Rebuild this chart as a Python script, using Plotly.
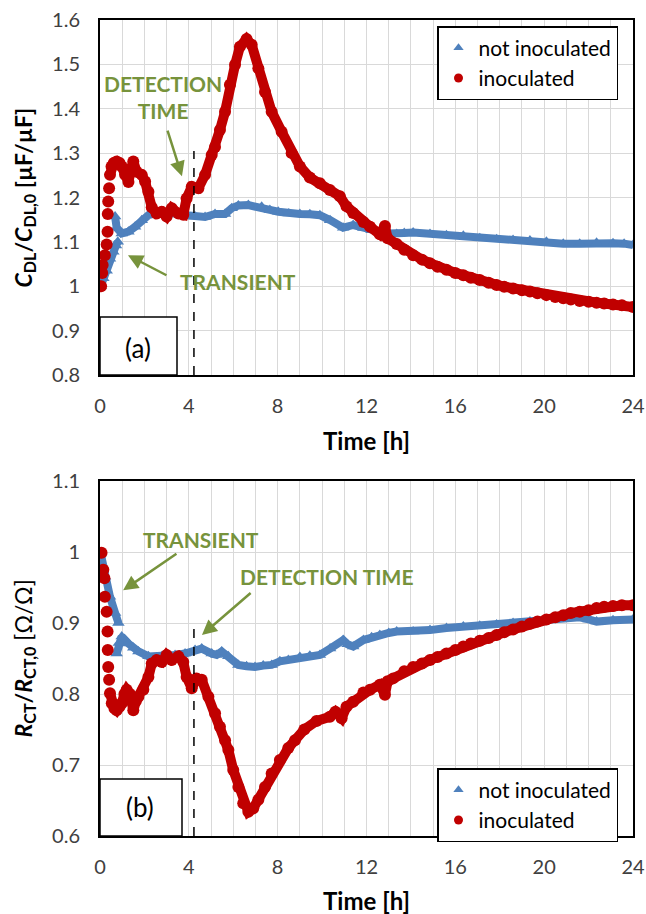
import plotly.graph_objects as go

# ---------------- data ----------------
# (a) double-layer capacitance, normalised
t_a_blue = [0.03, 0.15, 0.30, 0.45, 0.60, 0.72, 0.80,
            0.68, 0.75, 0.98, 1.28, 1.58, 1.88, 2.18, 2.48, 2.78, 3.15, 3.53, 3.90,
            4.28, 4.73, 5.18, 5.63, 5.93, 6.23, 6.68, 7.28, 7.65, 8.03, 8.50, 9.00,
            9.45, 9.90, 10.36, 10.95, 11.40, 11.86, 12.23, 12.60, 13.00, 13.36, 13.70,
            14.10, 14.86, 15.60, 16.36, 17.10, 17.86, 18.60, 19.36, 20.10, 20.86,
            21.60, 22.36, 23.10, 23.60, 24.00]
c_a_blue = [1.000, 1.018, 1.035, 1.062, 1.078, 1.092, 1.100,
            1.157, 1.132, 1.119, 1.123, 1.134, 1.149, 1.160, 1.164, 1.165, 1.163, 1.164, 1.160,
            1.157, 1.156, 1.163, 1.163, 1.176, 1.182, 1.183, 1.179, 1.172, 1.168, 1.164, 1.163,
            1.162, 1.160, 1.149, 1.132, 1.138, 1.131, 1.126, 1.123, 1.119, 1.118, 1.120,
            1.121, 1.118, 1.115, 1.114, 1.108, 1.106, 1.104, 1.103, 1.100, 1.096,
            1.096, 1.098, 1.097, 1.096, 1.093]
a_blue_break = 7  # jump in the not-inoculated transient

t_a_red = [0.05, 0.10, 0.12, 0.22, 0.30, 0.34, 0.35, 0.37, 0.41, 0.45, 0.52, 0.62, 0.75,
           0.88, 0.98, 1.13, 1.28, 1.40, 1.50, 1.65, 1.88, 2.03, 2.18, 2.33, 2.55, 2.78,
           3.00, 3.23, 3.53, 3.75, 3.90, 4.13, 4.43, 4.73, 5.03, 5.18, 5.40, 5.63, 5.85,
           6.08, 6.30, 6.60, 6.83, 7.13, 7.43, 7.73, 8.18, 8.63, 9.00, 9.45, 9.90, 10.35,
           10.80, 11.10, 11.40, 11.86, 12.16, 12.60, 12.83, 12.95, 13.36, 13.70, 14.10,
           14.50, 14.86, 15.20, 15.60, 16.00, 16.36, 16.70, 17.10, 17.50, 17.86, 18.20,
           18.60, 19.00, 19.36, 19.70, 20.10, 20.50, 20.86, 21.20, 21.60, 22.00, 22.36,
           22.70, 23.10, 23.50, 24.00]
c_a_red = [1.000, 1.030, 1.048, 1.070, 1.094, 1.123, 1.163, 1.191, 1.221, 1.251, 1.270, 1.278, 1.281,
           1.278, 1.270, 1.251, 1.235, 1.265, 1.281, 1.258, 1.251, 1.236, 1.213, 1.178, 1.164, 1.168,
           1.157, 1.176, 1.164, 1.161, 1.198, 1.224, 1.221, 1.251, 1.296, 1.314, 1.352, 1.393, 1.454,
           1.499, 1.540, 1.557, 1.544, 1.491, 1.438, 1.393, 1.348, 1.300, 1.270, 1.245, 1.232, 1.217,
           1.203, 1.180, 1.165, 1.145, 1.134, 1.117, 1.136, 1.108, 1.095, 1.082, 1.070,
           1.060, 1.052, 1.044, 1.037, 1.030, 1.025, 1.019, 1.014, 1.008, 1.003, 0.999,
           0.995, 0.991, 0.988, 0.984, 0.980, 0.976, 0.973, 0.970, 0.967, 0.965, 0.963,
           0.961, 0.959, 0.957, 0.953]
a_red_line_start = 9  # isolated dots before this index

# (b) charge-transfer resistance, normalised
t_b_blue = [0.03, 0.22, 0.45, 0.68, 0.83,
            0.75, 0.85, 0.98, 1.28, 1.50, 1.73, 2.18, 2.78, 3.38, 3.83, 4.28, 4.58, 5.03,
            5.25, 5.48, 5.78, 6.23, 6.60, 6.98, 7.35, 7.73, 8.10, 8.48, 9.00, 9.45, 9.90,
            10.36, 10.95, 11.15, 11.40, 11.86, 12.23, 12.60, 13.00, 13.36, 14.10, 14.86,
            15.60, 16.36, 17.10, 17.86, 18.60, 19.36, 20.10, 20.86, 21.60, 22.00, 22.36,
            23.10, 24.00]
r_b_blue = [0.998, 0.965, 0.937, 0.914, 0.900,
            0.857, 0.872, 0.881, 0.871, 0.865, 0.860, 0.853, 0.853, 0.855, 0.857, 0.862, 0.864, 0.857,
            0.855, 0.860, 0.853, 0.841, 0.839, 0.838, 0.840, 0.841, 0.846, 0.848, 0.852, 0.854, 0.855,
            0.864, 0.876, 0.870, 0.867, 0.876, 0.880, 0.883, 0.886, 0.888, 0.888, 0.890,
            0.893, 0.895, 0.896, 0.898, 0.900, 0.902, 0.905, 0.908, 0.908, 0.905, 0.902,
            0.904, 0.905]
b_blue_break = 5

t_b_red = [0.07, 0.15, 0.20, 0.22, 0.30, 0.34, 0.35, 0.37, 0.41, 0.45, 0.53, 0.65, 0.75,
           0.88, 0.98, 1.10, 1.20, 1.35, 1.43, 1.50, 1.62, 1.73, 1.95, 2.18, 2.33, 2.55,
           2.78, 3.00, 3.23, 3.53, 3.75, 3.90, 4.13, 4.35, 4.58, 4.88, 5.18, 5.40, 5.63,
           5.78, 6.00, 6.23, 6.45, 6.68, 6.90, 7.13, 7.43, 7.73, 8.10, 8.48, 8.78, 9.20,
           9.75, 10.35, 10.60, 10.88, 11.10, 11.40, 11.86, 12.16, 12.60, 12.83, 12.95,
           13.20, 13.70, 14.10, 14.50, 14.86, 15.20, 15.60, 16.00, 16.36, 16.70, 17.10,
           17.50, 17.86, 18.20, 18.60, 19.00, 19.36, 19.70, 20.10, 20.50, 20.86, 21.20,
           21.60, 22.00, 22.36, 22.70, 23.10, 23.50, 24.00]
r_b_red = [0.999, 0.975, 0.963, 0.937, 0.916, 0.888, 0.862, 0.838, 0.820, 0.801, 0.787, 0.780, 0.777,
           0.782, 0.787, 0.800, 0.806, 0.800, 0.790, 0.777, 0.790, 0.796, 0.806, 0.824, 0.843, 0.848,
           0.845, 0.855, 0.848, 0.853, 0.845, 0.824, 0.808, 0.822, 0.820, 0.796, 0.773, 0.754, 0.735,
           0.721, 0.693, 0.669, 0.646, 0.634, 0.639, 0.651, 0.669, 0.688, 0.707, 0.724, 0.735, 0.750,
           0.762, 0.768, 0.775, 0.766, 0.782, 0.789, 0.802, 0.806, 0.813, 0.799, 0.818,
           0.822, 0.832, 0.838, 0.843, 0.848, 0.852, 0.857, 0.862, 0.867, 0.871, 0.875,
           0.879, 0.883, 0.887, 0.891, 0.895, 0.899, 0.902, 0.905, 0.908, 0.911, 0.914,
           0.916, 0.918, 0.921, 0.923, 0.924, 0.925, 0.925]
b_red_line_start = 9

series_names = ["not inoculated", "inoculated"]
detection_time = 4.23
x_ticks = [0, 4, 8, 12, 16, 20, 24]

# ---------------- styling ----------------
FONT = "Lato, 'Open Sans', sans-serif"
BLUE = "#4F81BD"
RED = "#C00000"
GREEN = "#77933C"
GRID = "#D9D9D9"
TICKC = "#404040"


def broken(xs, ys, k):
    return xs[:k] + [None] + xs[k:], ys[:k] + [None] + ys[k:]


fig = go.Figure()


def add_panel(xa, ya, leg, tb, vb, kb, tr, vr, kr):
    bx, by = broken(tb, vb, kb)
    fig.add_trace(go.Scatter(x=bx, y=by, mode="lines", line=dict(color=BLUE, width=8),
                             showlegend=False, hoverinfo="skip", xaxis=xa, yaxis=ya))
    fig.add_trace(go.Scatter(x=tb, y=vb, mode="markers", name=series_names[0],
                             marker=dict(symbol="triangle-up", size=11, color=BLUE),
                             showlegend=False, xaxis=xa, yaxis=ya))
    fig.add_trace(go.Scatter(x=tr[kr:], y=vr[kr:], mode="lines", line=dict(color=RED, width=10),
                             showlegend=False, hoverinfo="skip", xaxis=xa, yaxis=ya))
    fig.add_trace(go.Scatter(x=tr, y=vr, mode="markers", name=series_names[1],
                             marker=dict(symbol="circle", size=12, color=RED),
                             showlegend=False, xaxis=xa, yaxis=ya))
    # legend entries (smaller symbols, as in the reference legend)
    fig.add_trace(go.Scatter(x=[None], y=[None], mode="markers", name=series_names[0],
                             marker=dict(symbol="triangle-up", size=9, color=BLUE),
                             legend=leg, xaxis=xa, yaxis=ya))
    fig.add_trace(go.Scatter(x=[None], y=[None], mode="markers", name=series_names[1],
                             marker=dict(symbol="circle", size=9, color=RED),
                             legend=leg, xaxis=xa, yaxis=ya))


add_panel("x", "y", "legend", t_a_blue, c_a_blue, a_blue_break, t_a_red, c_a_red, a_red_line_start)
add_panel("x2", "y2", "legend2", t_b_blue, r_b_blue, b_blue_break, t_b_red, r_b_red, b_red_line_start)

W, H = 646, 914
L, R = 100, 633
A_TOP, A_BOT = 20, 375
B_TOP, B_BOT = 481, 836


def px(x):
    return x / W


def py(y):
    return 1 - y / H


xcommon = dict(range=[0, 24], tickvals=x_ticks, showgrid=True, gridcolor=GRID, gridwidth=1,
               minor=dict(dtick=1, showgrid=True, gridcolor=GRID, gridwidth=1),
               showline=True, linecolor="black", linewidth=2, mirror=True, ticks="",
               zeroline=False, tickfont=dict(family=FONT, size=20, color=TICKC),
               ticklabelstandoff=12, domain=[px(L), px(R)], fixedrange=True, automargin=False)
ycommon = dict(dtick=0.1, showgrid=True, gridcolor=GRID, gridwidth=1,
               showline=True, linecolor="black", linewidth=2, mirror=True, ticks="",
               zeroline=False, tickfont=dict(family=FONT, size=20, color=TICKC),
               ticklabelstandoff=14, fixedrange=True, automargin=False)

legcommon = dict(x=px(437), xanchor="left", yanchor="top", bgcolor="white",
                 bordercolor="black", borderwidth=1.5,
                 font=dict(family=FONT, size=21, color="black"),
                 itemwidth=30, tracegroupgap=0)

fig.update_layout(
    width=W, height=H, margin=dict(l=0, r=0, t=0, b=0),
    paper_bgcolor="white", plot_bgcolor="white",
    font=dict(family=FONT, color="black"),
    xaxis=dict(xcommon, anchor="y"),
    yaxis=dict(ycommon, range=[0.8, 1.6], tick0=0.8, anchor="x", domain=[py(A_BOT), py(A_TOP)]),
    xaxis2=dict(xcommon, anchor="y2"),
    yaxis2=dict(ycommon, range=[0.6, 1.1], tick0=0.6, anchor="x2", domain=[py(B_BOT), py(B_TOP)]),
    legend=dict(legcommon, y=py(26)),
    legend2=dict(legcommon, y=py(768)),
    showlegend=True,
)

shapes = [
    dict(type="line", xref="x", yref="y", x0=detection_time, x1=detection_time, y0=0.8, y1=1.305,
         line=dict(color="black", width=1.5, dash="dash")),
    dict(type="line", xref="x2", yref="y2", x0=detection_time, x1=detection_time, y0=0.6, y1=0.9,
         line=dict(color="black", width=1.5, dash="dash")),
    dict(type="rect", xref="paper", yref="paper", x0=px(L), x1=px(177), y0=py(A_BOT), y1=py(317),
         line=dict(color="black", width=1.5), fillcolor="white"),
    dict(type="rect", xref="paper", yref="paper", x0=px(L), x1=px(182), y0=py(B_BOT), y1=py(779),
         line=dict(color="black", width=1.5), fillcolor="white"),
]
fig.update_layout(shapes=shapes)

ann = []
# axis titles
for yy in (440, 900):
    ann.append(dict(text="<b>Time [h]</b>", x=px((L + R) / 2), y=py(yy), xref="paper", yref="paper",
                    showarrow=False, font=dict(family=FONT, size=24, color="black"),
                    xanchor="center", yanchor="middle"))
ann.append(dict(text="<b><i>C</i><sub>DL</sub>/<i>C</i><sub>DL,0</sub> [µF/µF]</b>",
                x=px(24), y=py((A_TOP + A_BOT) / 2), xref="paper", yref="paper", textangle=-90,
                showarrow=False, font=dict(family=FONT, size=23, color="black"),
                xanchor="center", yanchor="middle"))
ann.append(dict(text="<b><i>R</i><sub>CT</sub>/<i>R</i><sub>CT,0</sub></b> [Ω/Ω]",
                x=px(24), y=py((B_TOP + B_BOT) / 2), xref="paper", yref="paper", textangle=-90,
                showarrow=False, font=dict(family=FONT, size=23, color="black"),
                xanchor="center", yanchor="middle"))
# panel labels
ann.append(dict(text="(a)", x=px(138), y=py(348), xref="paper", yref="paper", showarrow=False,
                xanchor="center", yanchor="middle", font=dict(family=FONT, size=26, color="black")))
ann.append(dict(text="(b)", x=px(140), y=py(807), xref="paper", yref="paper", showarrow=False,
                xanchor="center", yanchor="middle", font=dict(family=FONT, size=26, color="black")))
# green labels
gfont = dict(family=FONT, size=21, color=GREEN)
ann += [
    dict(text="<b>DETECTION<br>TIME</b>", x=2.84, y=1.427, xref="x", yref="y", showarrow=False, font=gfont),
    dict(text="<b>TRANSIENT</b>", x=6.21, y=1.010, xref="x", yref="y", showarrow=False, font=gfont),
    dict(text="<b>TRANSIENT</b>", x=4.55, y=1.018, xref="x2", yref="y2", showarrow=False, font=gfont),
    dict(text="<b>DETECTION TIME</b>", x=10.18, y=0.965, xref="x2", yref="y2", showarrow=False, font=gfont),
]
arrow = dict(text="", showarrow=True, arrowcolor=GREEN, arrowwidth=2.5, arrowhead=2, arrowsize=1.2)
ann += [
    dict(arrow, x=3.69, y=1.248, ax=3.02, ay=1.354, xref="x", yref="y", axref="x", ayref="y"),
    dict(arrow, x=1.26, y=1.070, ax=3.06, ay=1.023, xref="x", yref="y", axref="x", ayref="y"),
    dict(arrow, x=1.04, y=0.946, ax=3.51, ay=0.999, xref="x2", yref="y2", axref="x2", ayref="y2"),
    dict(arrow, x=4.59, y=0.883, ax=6.85, ay=0.944, xref="x2", yref="y2", axref="x2", ayref="y2"),
]
fig.update_layout(annotations=ann)

fig.write_html("out.html", config={"displayModeBar": False},
               post_script="document.body.style.margin='0px';")
